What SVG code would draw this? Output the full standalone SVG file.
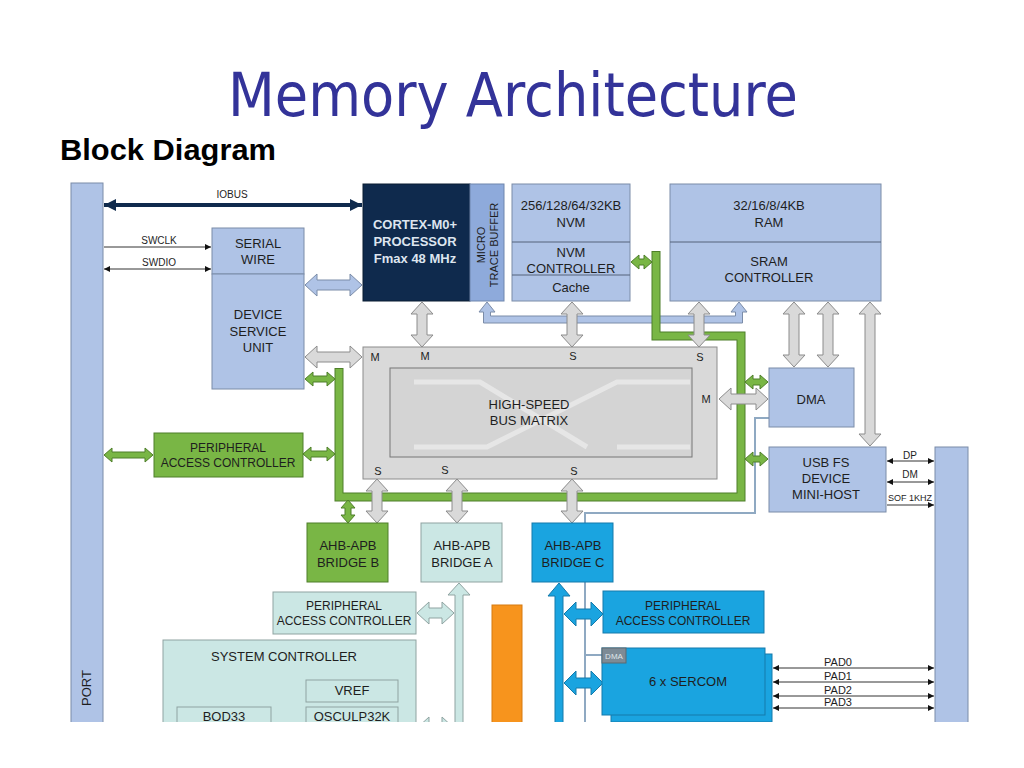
<svg xmlns="http://www.w3.org/2000/svg" width="1024" height="768" viewBox="0 0 1024 768">
<defs>
<style>
.lb{fill:#afc3e6;stroke:#7b8ca8;stroke-width:1}
.gr{fill:#d9d9d9;stroke:#8c8c8c;stroke-width:1}
.gn{fill:#79b645;stroke:#4f7f2a;stroke-width:1}
.tl{fill:#cbe7e4;stroke:#8fa3a1;stroke-width:1}
.bl{fill:#1aa4e0;stroke:#147aab;stroke-width:1}
.t{font-family:"Liberation Sans",Arial,sans-serif;font-size:13px;fill:#1e1e1e;text-anchor:middle}
.s12{font-size:12px}
.s11{font-size:11px}
.s10{font-size:10px}
.s9{font-size:9px}
.w{fill:#dde5ef;font-weight:bold}
.thin{stroke:#333;stroke-width:1;fill:none}
</style>
<marker id="ah" viewBox="0 0 10 10" refX="10" refY="5" markerWidth="8" markerHeight="6" orient="auto-start-reverse" markerUnits="userSpaceOnUse">
<path d="M0 0 L10 5 L0 10 Z" fill="#111"/>
</marker>
<marker id="ahb" viewBox="0 0 10 10" refX="10" refY="5" markerWidth="12" markerHeight="14" orient="auto-start-reverse" markerUnits="userSpaceOnUse">
<path d="M0 0 L10 5 L0 10 Z" fill="#0f2a4d"/>
</marker>
<clipPath id="cut"><rect x="0" y="0" width="1024" height="722"/></clipPath>
</defs>
<rect width="1024" height="768" fill="#ffffff"/>
<text x="228" y="116" font-family="DejaVu Sans,Verdana,sans-serif" font-size="60" fill="#333399" textLength="570" lengthAdjust="spacingAndGlyphs">Memory Architecture</text>
<text x="60" y="160" font-family="Liberation Sans,Arial,sans-serif" font-size="29" font-weight="bold" fill="#000" textLength="216" lengthAdjust="spacingAndGlyphs">Block Diagram</text>

<g clip-path="url(#cut)">
<!-- connectors -->
<g id="connectors">
<!-- thin DMA line -->
<path d="M769 418 H755 V513 H585 V724 M585 655 H602" fill="none" stroke="#8fa9c2" stroke-width="2"/>
<!-- MTB light blue bus -->
<path class="lb" d="M487 302 L495 312 L490.5 312 L490.5 316 L735.5 316 L735.5 312 L731 312 L739 302 L747 312 L742.5 312 L742.5 323 L483.5 323 L483.5 312 L479 312 Z"/>
<!-- green bus -->
<path d="M656 251 V336 H741 V497 H339 V368" fill="none" stroke="#4f7f2a" stroke-width="9" stroke-linejoin="miter"/>
<path d="M656 252 V336 H741 V497 H339 V369" fill="none" stroke="#79b645" stroke-width="7" stroke-linejoin="miter"/>
<!-- IOBUS -->
<line x1="104" y1="205" x2="362" y2="205" stroke="#0f2a4d" stroke-width="4" marker-start="url(#ahb)" marker-end="url(#ahb)"/>
<text class="t s10" x="232" y="198">IOBUS</text>
<!-- SWCLK / SWDIO -->
<line class="thin" x1="104" y1="247" x2="211" y2="247" marker-end="url(#ah)"/>
<line class="thin" x1="104" y1="269" x2="211" y2="269" marker-start="url(#ah)" marker-end="url(#ah)"/>
<text class="t s10" x="159" y="244">SWCLK</text>
<text class="t s10" x="159" y="266">SWDIO</text>
<!-- USB pins -->
<line class="thin" x1="887" y1="461" x2="934" y2="461" marker-start="url(#ah)" marker-end="url(#ah)"/>
<line class="thin" x1="887" y1="482" x2="934" y2="482" marker-start="url(#ah)" marker-end="url(#ah)"/>
<line class="thin" x1="887" y1="505" x2="934" y2="505" marker-end="url(#ah)"/>
<text class="t s10" x="910" y="459">DP</text>
<text class="t s10" x="910" y="478">DM</text>
<text class="t s9" x="910" y="501">SOF 1KHZ</text>
<!-- PAD lines -->
<line class="thin" x1="773" y1="668" x2="934" y2="668" marker-start="url(#ah)" marker-end="url(#ah)"/>
<line class="thin" x1="773" y1="682" x2="934" y2="682" marker-start="url(#ah)" marker-end="url(#ah)"/>
<line class="thin" x1="773" y1="696" x2="934" y2="696" marker-start="url(#ah)" marker-end="url(#ah)"/>
<line class="thin" x1="773" y1="708" x2="934" y2="708" marker-start="url(#ah)" marker-end="url(#ah)"/>
<text class="t s11" x="838" y="666">PAD0</text>
<text class="t s11" x="838" y="680">PAD1</text>
<text class="t s11" x="838" y="694">PAD2</text>
<text class="t s11" x="838" y="706">PAD3</text>
<!-- gray block arrows -->
<path class="gr" d="M422 302 L433 314 L427 314 L427 335 L433 335 L422 347 L411 335 L417 335 L417 314 L411 314 Z"/>
<path class="gr" d="M572 302 L583 314 L577 314 L577 335 L583 335 L572 347 L561 335 L567 335 L567 314 L561 314 Z"/>
<path class="gr" d="M699 302 L710 314 L704 314 L704 335 L710 335 L699 347 L688 335 L694 335 L694 314 L688 314 Z"/>
<path class="gr" d="M794 302 L805 314 L799 314 L799 355 L805 355 L794 367 L783 355 L789 355 L789 314 L783 314 Z"/>
<path class="gr" d="M828 302 L839 314 L833 314 L833 355 L839 355 L828 367 L817 355 L823 355 L823 314 L817 314 Z"/>
<path class="gr" d="M870 302 L881 314 L875 314 L875 434 L881 434 L870 446 L859 434 L865 434 L865 314 L859 314 Z"/>
<path class="gr" d="M377 479 L388 491 L382 491 L382 511 L388 511 L377 523 L366 511 L372 511 L372 491 L366 491 Z"/>
<path class="gr" d="M457 479 L468 491 L462 491 L462 511 L468 511 L457 523 L446 511 L452 511 L452 491 L446 491 Z"/>
<path class="gr" d="M572 479 L583 491 L577 491 L577 511 L583 511 L572 523 L561 511 L567 511 L567 491 L561 491 Z"/>
<path class="gr" d="M305 357 L317 346 L317 352 L350 352 L350 346 L362 357 L350 368 L350 362 L317 362 L317 368 Z"/>
<path class="gr" d="M719 399 L731 388 L731 394 L756 394 L756 388 L768 399 L756 410 L756 404 L731 404 L731 410 Z"/>
<path class="lb" d="M305 285 L317 274 L317 280 L350 280 L350 274 L362 285 L350 296 L350 290 L317 290 L317 296 Z"/>
<!-- teal arrows -->
<path class="tl" d="M417 613 L429 602 L429 608 L442 608 L442 602 L454 613 L442 624 L442 618 L429 618 L429 624 Z"/>
<path class="tl" d="M417 728 L429 717 L429 723 L442 723 L442 717 L454 728 L442 739 L442 733 L429 733 L429 739 Z"/>
<path class="tl" d="M459 583 L470 595 L463 595 L463 730 L455 730 L455 595 L448 595 Z"/>
<!-- blue arrows -->
<path class="bl" d="M559 583 L570 596 L563 596 L563 730 L555 730 L555 596 L548 596 Z"/>
<path class="bl" d="M564 614 L576 602 L576 609 L591 609 L591 602 L603 614 L591 626 L591 619 L576 619 L576 626 Z"/>
<path class="bl" d="M564 683 L576 671 L576 678 L591 678 L591 671 L603 683 L591 695 L591 688 L576 688 L576 695 Z"/>
<!-- green arrows -->
<path class="gn" d="M305 379 L313 372 L313 376 L327 376 L327 372 L335 379 L327 386 L327 382 L313 382 L313 386 Z"/>
<path class="gn" d="M303 454 L311 447 L311 451 L327 451 L327 447 L335 454 L327 461 L327 457 L311 457 L311 461 Z"/>
<path class="gn" d="M104 455 L112 448 L112 452 L145 452 L145 448 L153 455 L145 462 L145 458 L112 458 L112 462 Z"/>
<path class="gn" d="M631 262 L639 255 L639 259 L644 259 L644 255 L652 262 L644 269 L644 265 L639 265 L639 269 Z"/>
<path class="gn" d="M745 382 L753 375 L753 379 L760 379 L760 375 L768 382 L760 389 L760 385 L753 385 L753 389 Z"/>
<path class="gn" d="M745 459 L753 452 L753 456 L760 456 L760 452 L768 459 L760 466 L760 462 L753 462 L753 466 Z"/>
<path class="gn" d="M348 500 L355 508 L351 508 L351 515 L355 515 L348 523 L341 515 L345 515 L345 508 L341 508 Z"/>
</g>

<g id="port-left">
<rect class="lb" x="71" y="183" width="32" height="545"/>
<text class="t" transform="translate(86,688) rotate(-90)" y="4.5">PORT</text>
</g>
<g id="port-right">
<rect class="lb" x="935" y="447" width="33" height="285"/>
</g>

<g id="cpu">
<rect x="363" y="184" width="107" height="117" fill="#0f2a4d" stroke="#0a1c33"/>
<text class="t w" x="415" y="229">CORTEX-M0+</text>
<text class="t w" x="415" y="246">PROCESSOR</text>
<text class="t w" x="415" y="263">Fmax 48 MHz</text>
</g>
<g id="mtb">
<rect x="470" y="184" width="34" height="117" fill="#8eaadb" stroke="#6f86ad"/>
<text class="t s11" transform="translate(481,245) rotate(-90)" y="4">MICRO</text>
<text class="t s11" transform="translate(494,245) rotate(-90)" y="4">TRACE BUFFER</text>
</g>

<g id="nvm">
<rect class="lb" x="512" y="184" width="118" height="117"/>
<line x1="512" y1="242" x2="630" y2="242" stroke="#55627a"/>
<line x1="512" y1="275" x2="630" y2="275" stroke="#55627a"/>
<text class="t" x="571" y="210">256/128/64/32KB</text>
<text class="t" x="571" y="227">NVM</text>
<text class="t" x="571" y="257">NVM</text>
<text class="t" x="571" y="273">CONTROLLER</text>
<text class="t" x="571" y="292">Cache</text>
</g>

<g id="ram">
<rect class="lb" x="670" y="184" width="211" height="117"/>
<line x1="670" y1="242" x2="881" y2="242" stroke="#55627a"/>
<text class="t" x="769" y="210">32/16/8/4KB</text>
<text class="t" x="769" y="227">RAM</text>
<text class="t" x="769" y="266">SRAM</text>
<text class="t" x="769" y="282">CONTROLLER</text>
</g>

<g id="serial-wire">
<rect class="lb" x="212" y="228" width="92" height="46"/>
<text class="t" x="258" y="248">SERIAL</text>
<text class="t" x="258" y="264">WIRE</text>
</g>
<g id="dsu">
<rect class="lb" x="212" y="274" width="92" height="115"/>
<text class="t" x="258" y="319">DEVICE</text>
<text class="t" x="258" y="336">SERVICE</text>
<text class="t" x="258" y="352">UNIT</text>
</g>

<g id="bus-matrix">
<rect x="363" y="347" width="354" height="132" fill="#d9d9d9" stroke="#8c8c8c"/>
<rect x="390" y="368" width="302" height="89" fill="#d4d4d4" stroke="#777"/>
<path d="M414 382 H480 L587 447 M414 447 H487 L617 382 H690 M617 447 H690" fill="none" stroke="#e6e6e6" stroke-width="5"/>
<text class="t" x="529" y="409">HIGH-SPEED</text>
<text class="t" x="529" y="425">BUS MATRIX</text>
<text class="t s11" x="375" y="361">M</text>
<text class="t s11" x="425" y="360">M</text>
<text class="t s11" x="573" y="360">S</text>
<text class="t s11" x="700" y="361">S</text>
<text class="t s11" x="706" y="403">M</text>
<text class="t s11" x="378" y="475">S</text>
<text class="t s11" x="445" y="474">S</text>
<text class="t s11" x="574" y="475">S</text>
</g>

<g id="dma">
<rect class="lb" x="769" y="368" width="85" height="59"/>
<text class="t" x="811" y="404">DMA</text>
</g>
<g id="usb">
<rect class="lb" x="769" y="447" width="117" height="65"/>
<text class="t" x="826" y="467">USB FS</text>
<text class="t" x="826" y="483">DEVICE</text>
<text class="t" x="826" y="499">MINI-HOST</text>
</g>

<g id="pac-b">
<rect class="gn" x="154" y="433" width="149" height="44"/>
<text class="t s12" x="228" y="452">PERIPHERAL</text>
<text class="t s12" x="228" y="467">ACCESS CONTROLLER</text>
</g>
<g id="bridge-b">
<rect class="gn" x="307" y="523" width="81" height="59"/>
<text class="t" x="348" y="550">AHB-APB</text>
<text class="t" x="348" y="567">BRIDGE B</text>
</g>
<g id="bridge-a">
<rect class="tl" x="421" y="523" width="81" height="59"/>
<text class="t" x="462" y="550">AHB-APB</text>
<text class="t" x="462" y="567">BRIDGE A</text>
</g>
<g id="bridge-c">
<rect class="bl" x="532" y="523" width="81" height="59"/>
<text class="t" x="573" y="550">AHB-APB</text>
<text class="t" x="573" y="567">BRIDGE C</text>
</g>

<g id="pac-a">
<rect class="tl" x="273" y="592" width="143" height="42"/>
<text class="t s12" x="344" y="610">PERIPHERAL</text>
<text class="t s12" x="344" y="625">ACCESS CONTROLLER</text>
</g>
<g id="system-controller">
<rect class="tl" x="163" y="640" width="253" height="90"/>
<text class="t" x="284" y="661">SYSTEM CONTROLLER</text>
<rect class="tl" x="306" y="680" width="92" height="22"/>
<text class="t" x="352" y="695">VREF</text>
<rect class="tl" x="306" y="707" width="92" height="22"/>
<text class="t" x="352" y="721">OSCULP32K</text>
<rect class="tl" x="177" y="707" width="94" height="22"/>
<text class="t" x="224" y="721">BOD33</text>
</g>
<g id="orange-bar">
<rect x="492" y="605" width="30" height="125" fill="#f7941d" stroke="#d67a10"/>
</g>
<g id="pac-c">
<rect class="bl" x="603" y="591" width="161" height="42"/>
<text class="t s12" x="683" y="610">PERIPHERAL</text>
<text class="t s12" x="683" y="625">ACCESS CONTROLLER</text>
</g>
<g id="sercom">
<rect class="bl" x="611" y="654" width="161" height="68"/>
<rect class="bl" x="602" y="648" width="163" height="67"/>
<rect x="602" y="648" width="24" height="15" fill="#7d8b96" stroke="#5c6870"/>
<text class="t" x="614" y="659" font-size="8" style="font-size:8px;fill:#dfe6ea">DMA</text>
<text class="t" x="688" y="686">6 x SERCOM</text>
</g>
</g>
</svg>
